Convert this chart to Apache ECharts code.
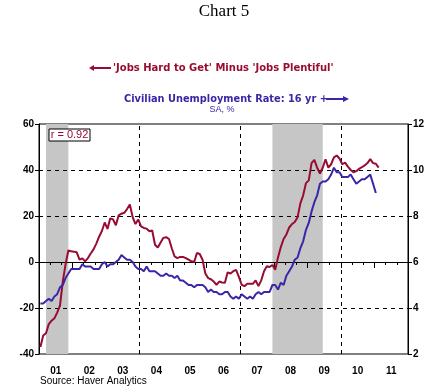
<!DOCTYPE html>
<html><head><meta charset="utf-8">
<script src="https://cdn.jsdelivr.net/npm/echarts@6/dist/echarts.min.js"></script>
<style>html,body{margin:0;padding:0;background:#fff}#c{width:448px;height:390px}</style>
</head><body><div id="c"></div><script>
// Year labels (2001..2011)
const yearLabels = ['01','02','03','04','05','06','07','08','09','10','11'];
// 'Jobs Hard to Get' minus 'Jobs Plentiful', monthly from Jan 2001 (left axis)
const jobsDiff2001 = [-37,-32,-31,-27,-25.5,-24.5,-22,-19,-8.5,-1,5,4.7];
const jobsDiff2002 = [4.5,4.2,1,1.6,0.3,1.7,3.7,5.5,8,11,13.5,17.2];
const jobsDiff2003 = [14.4,19,18.5,16,20.3,21,21.4,23,25,19.5,16.5,18.5];
const jobsDiff2004 = [15.5,14.8,14.5,13.4,13.7,7.5,6.3,8.5,10.5,10.8,10,6];
const jobsDiff2005 = [2.4,1.7,2.2,2.2,1.7,1,0.3,0,3.9,3.5,1,-5];
const jobsDiff2006 = [-7,-7.5,-8.5,-9.9,-8.5,-8.9,-9,-4.5,-5,-4,-3.4,-6.5];
const jobsDiff2007 = [-9.9,-10.5,-9.5,-9.5,-9.5,-8,-10.5,-8,-4,-1.8,-2.2,-1.3];
const jobsDiff2008 = [-3.4,2,6.5,10,12,15,16.5,17.4,19.5,25.5,29,34.3];
const jobsDiff2009 = [35.5,43,44.4,41,38.5,41,44.7,41,42.5,45.5,46.3,45];
const jobsDiff2010 = [42.5,43.2,41.5,40,39,39.5,40.5,41.2,42,43,44.7,43];
const jobsDiff2011 = [42.7,41];
// Civilian unemployment rate 16 yr +, SA, %, monthly from Jan 2001 (right axis)
const unemp2001 = [4.2,4.2,4.3,4.4,4.3,4.5,4.6,4.9,5.0,5.3,5.5,5.7];
const unemp2002 = [5.7,5.7,5.7,5.9,5.8,5.8,5.8,5.7,5.7,5.7,5.9,6.0];
const unemp2003 = [5.8,5.9,5.9,6.0,6.1,6.3,6.2,6.1,6.1,6.0,5.8,5.7];
const unemp2004 = [5.7,5.6,5.8,5.6,5.6,5.6,5.5,5.4,5.4,5.5,5.4,5.4];
const unemp2005 = [5.3,5.4,5.2,5.2,5.1,5.0,5.0,4.9,5.0,5.0,5.0,4.9];
const unemp2006 = [4.7,4.8,4.7,4.7,4.6,4.6,4.7,4.7,4.5,4.4,4.5,4.4];
const unemp2007 = [4.6,4.5,4.4,4.5,4.4,4.6,4.7,4.6,4.7,4.7,4.7,5.0];
const unemp2008 = [5.0,4.8,5.1,5.0,5.4,5.6,5.8,6.1,6.2,6.6,6.9,7.4];
const unemp2009 = [7.7,8.2,8.6,8.9,9.4,9.5,9.5,9.6,9.8,10.1,9.9,9.9];
const unemp2010 = [9.7,9.7,9.7,9.8,9.6,9.4,9.5,9.6,9.6,9.7,9.8,9.4];
const unemp2011 = [9.0];
// Recessions, in months since Jan 2001 (mid-month of start/end)
const recessions = [[2.5,10.5],[83.5,101.5]];
// Vertical grid lines (months since Jan 2001)
const vGrid = [0,36,72,108];
const hGridDashed = [40,20,-20];

const jobsDiff = [].concat(jobsDiff2001,jobsDiff2002,jobsDiff2003,jobsDiff2004,jobsDiff2005,jobsDiff2006,jobsDiff2007,jobsDiff2008,jobsDiff2009,jobsDiff2010,jobsDiff2011);
const unemp = [].concat(unemp2001,unemp2002,unemp2003,unemp2004,unemp2005,unemp2006,unemp2007,unemp2008,unemp2009,unemp2010,unemp2011);

const RED = '#980b32', BLUE = '#3a27a6';
const lab = {color:'#000', fontFamily:'Liberation Sans, Arial', fontWeight:'bold', fontSize:10};

const chart = echarts.init(document.getElementById('c'), null, {renderer:'canvas'});
chart.setOption({
  animation:false,
  backgroundColor:'#fff',
  grid:{left:39, right:40, top:124, bottom:36, show:true, borderColor:'#000', borderWidth:1, backgroundColor:'transparent'},
  xAxis:[
    {type:'value', min:0, max:132, interval:12, z:4,
     axisLine:{show:true, lineStyle:{color:'#000', width:1}},
     axisTick:{show:true, length:6, lineStyle:{color:'#000'}},
     minorTick:{show:true, splitNumber:3, length:3, lineStyle:{color:'#000'}},
     axisLabel:{show:false}, splitLine:{show:false}},
    {type:'category', data:yearLabels, position:'bottom', boundaryGap:true, z:4,
     axisLine:{show:false}, axisTick:{show:false},
     axisLabel:Object.assign({margin:12}, lab), splitLine:{show:false}}
  ],
  yAxis:[
    {type:'value', min:-40, max:60, interval:20, position:'left', z:4,
     axisLine:{show:true, lineStyle:{color:'#000'}},
     axisTick:{show:true, length:4, lineStyle:{color:'#000'}},
     axisLabel:Object.assign({margin:5}, lab), splitLine:{show:false}},
    {type:'value', min:2, max:12, interval:2, position:'right', z:4,
     axisLine:{show:true, lineStyle:{color:'#000'}},
     axisTick:{show:true, length:4, lineStyle:{color:'#000'}},
     axisLabel:Object.assign({margin:5}, lab), splitLine:{show:false}}
  ],
  series:[
    {type:'line', name:'shade', xAxisIndex:0, yAxisIndex:0, z:1, silent:true,
     data:jobsDiff.map((v,i)=>[i+0.5,v]), showSymbol:false, lineStyle:{opacity:0},
     markArea:{silent:true, itemStyle:{color:'#c6c6c6'},
       data:recessions.map(r=>[{xAxis:r[0]},{xAxis:r[1]}])}},
    {type:'line', name:'grid', xAxisIndex:0, yAxisIndex:0, z:3, silent:true,
     data:jobsDiff.map((v,i)=>[i+0.5,v]), showSymbol:false, lineStyle:{opacity:0},
     markLine:{silent:true, symbol:'none', label:{show:false},
       lineStyle:{color:'#000', width:1, type:[4,4]},
       data:[].concat(
         hGridDashed.map(v=>({yAxis:v})),
         [{yAxis:0, lineStyle:{type:'solid', color:'#000', width:1}}],
         vGrid.map(v=>({xAxis:v}))
       )}},
    {type:'line', name:'jobs', xAxisIndex:0, yAxisIndex:0, z:5,
     data:jobsDiff.map((v,i)=>[i+0.5,v]), showSymbol:false,
     lineStyle:{color:RED, width:2}},
    {type:'line', name:'unemp', xAxisIndex:0, yAxisIndex:1, z:5,
     data:unemp.map((v,i)=>[i+0.5,v]), showSymbol:false,
     lineStyle:{color:BLUE, width:2}}
  ],
  graphic:[
    {type:'text', left:'center', top:3, style:{text:'Chart 5', font:'17px "Liberation Serif", "Times New Roman", serif', fill:'#000'}},
    {type:'polyline', shape:{points:[[93,68],[111,68]]}, style:{stroke:RED, lineWidth:2}},
    {type:'polygon', shape:{points:[[89,68],[94,65],[94,71]]}, style:{fill:RED}},
    {type:'text', x:113, y:68, style:{text:"'Jobs Hard to Get' Minus 'Jobs Plentiful'", font:'bold 10px "DejaVu Sans", Verdana', fill:RED, textVerticalAlign:'middle', textAlign:'left'}},
    {type:'text', x:124, y:99, style:{text:'Civilian Unemployment Rate: 16 yr +', font:'bold 9.8px "DejaVu Sans", Verdana', fill:BLUE, textVerticalAlign:'middle', textAlign:'left'}},
    {type:'polyline', shape:{points:[[326,99],[344,99]]}, style:{stroke:BLUE, lineWidth:2}},
    {type:'polygon', shape:{points:[[349,99],[343,96],[343,102]]}, style:{fill:BLUE}},
    {type:'text', x:222, y:110, style:{text:'SA, %', font:'9px "Liberation Sans", Arial', fill:BLUE, textVerticalAlign:'middle', textAlign:'center'}},
    {type:'rect', z:10, shape:{x:49, y:129, width:41, height:12}, style:{fill:'#fff', stroke:'#000', lineWidth:1}},
    {type:'text', z:11, x:69.5, y:135, style:{text:'r = 0.92', font:'11px "Liberation Sans", Arial', fill:RED, textVerticalAlign:'middle', textAlign:'center'}},
    {type:'text', x:40, y:381, style:{text:'Source: Haver Analytics', font:'10px "Liberation Sans", Arial', fill:'#000', textVerticalAlign:'middle', textAlign:'left'}}
  ]
});
</script></body></html>
